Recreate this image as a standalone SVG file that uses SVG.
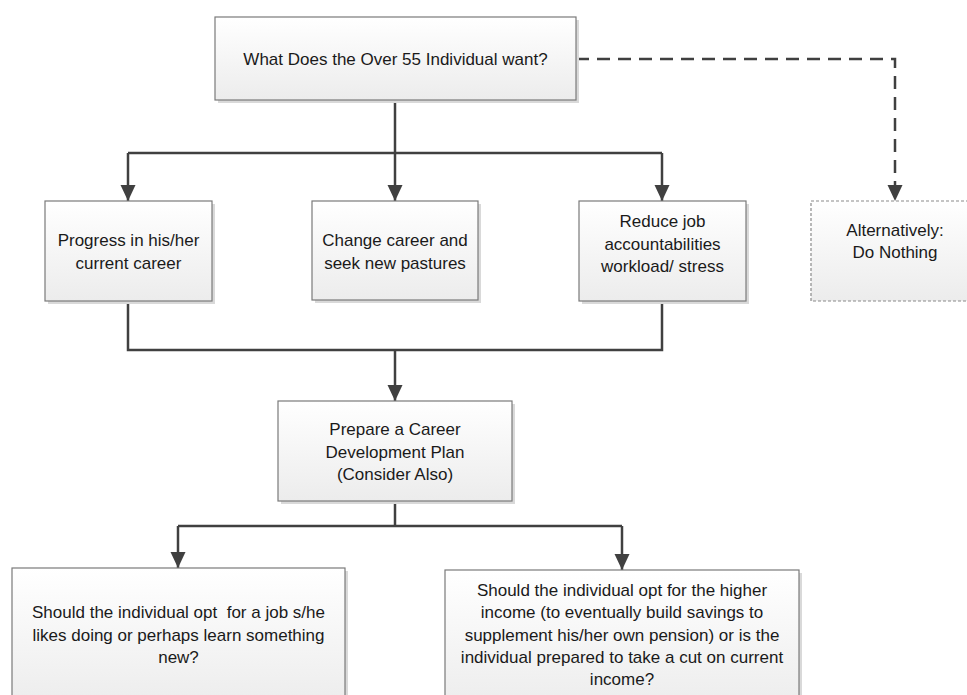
<svg xmlns="http://www.w3.org/2000/svg" width="967" height="695" viewBox="0 0 967 695">
<defs>
<linearGradient id="g" x1="0" y1="0" x2="0" y2="1">
<stop offset="0" stop-color="#ffffff"/>
<stop offset="1" stop-color="#ececec"/>
</linearGradient>
<marker id="ah" viewBox="0 0 16 16" refX="16" refY="8" markerWidth="16" markerHeight="16" markerUnits="userSpaceOnUse" orient="auto">
<path d="M0,0.5 L16,8 L0,15.5 Z" fill="#404040"/>
</marker>
<style>
.box{fill:url(#g);stroke:#7a7a7a;stroke-width:1.2}
.dbox{fill:url(#g);stroke:#8a8a8a;stroke-width:1.2;stroke-dasharray:3 2}
.sh{fill:#d9d9d9}
.t{font-family:"Liberation Sans",Arial,sans-serif;font-size:17px;fill:#1a1a1a;text-anchor:middle}
.c{fill:none;stroke:#404040;stroke-width:2.5}
.cd{fill:none;stroke:#404040;stroke-width:2.5;stroke-dasharray:13 8}
</style>
</defs>
<g id="connectors">
<path class="c" d="M395,100 V153"/>
<path class="c" d="M128,153 H662" />
<path class="c" d="M128,153 V201" marker-end="url(#ah)"/>
<path class="c" d="M395,153 V201" marker-end="url(#ah)"/>
<path class="c" d="M662,153 V201" marker-end="url(#ah)"/>
<path class="cd" d="M576,59 H895 V201" marker-end="url(#ah)"/>
<path class="c" d="M128,301 V350 H662 V301"/>
<path class="c" d="M395,350 V401" marker-end="url(#ah)"/>
<path class="c" d="M395,501 V526"/>
<path class="c" d="M178,526 H622"/>
<path class="c" d="M178,526 V568" marker-end="url(#ah)"/>
<path class="c" d="M622,526 V570" marker-end="url(#ah)"/>
</g>
<g id="n-top">
<rect class="sh" x="218" y="20" width="361" height="83"/>
<rect class="box" x="215" y="17" width="361" height="83"/>
<text class="t" x="395.5" y="65">What Does the Over 55 Individual want?</text>
</g>
<g id="n-progress">
<rect class="sh" x="48" y="204" width="167" height="100"/>
<rect class="box" x="45" y="201" width="167" height="100"/>
<text class="t" x="128.5" y="246">Progress in his/her</text>
<text class="t" x="128.5" y="269">current career</text>
</g>
<g id="n-change">
<rect class="sh" x="315" y="204" width="166" height="99"/>
<rect class="box" x="312" y="201" width="166" height="99"/>
<text class="t" x="395" y="246">Change career and</text>
<text class="t" x="395" y="269">seek new pastures</text>
</g>
<g id="n-reduce">
<rect class="sh" x="582" y="204" width="167" height="100"/>
<rect class="box" x="579" y="201" width="167" height="100"/>
<text class="t" x="662.5" y="227">Reduce job</text>
<text class="t" x="662.5" y="250">accountabilities</text>
<text class="t" x="662.5" y="272">workload/ stress</text>
</g>
<g id="n-nothing">
<rect class="dbox" x="811" y="201" width="170" height="100"/>
<text class="t" x="895" y="236">Alternatively:</text>
<text class="t" x="895" y="258">Do Nothing</text>
</g>
<g id="n-plan">
<rect class="sh" x="281" y="404" width="234" height="100"/>
<rect class="box" x="278" y="401" width="234" height="100"/>
<text class="t" x="395" y="435">Prepare a Career</text>
<text class="t" x="395" y="458">Development Plan</text>
<text class="t" x="395" y="480">(Consider Also)</text>
</g>
<g id="n-job">
<rect class="sh" x="15" y="571" width="333" height="140"/>
<rect class="box" x="12" y="568" width="333" height="140"/>
<text class="t" x="178.5" y="618" xml:space="preserve">Should the individual opt  for a job s/he</text>
<text class="t" x="178.5" y="641">likes doing or perhaps learn something</text>
<text class="t" x="178.5" y="663">new?</text>
</g>
<g id="n-income">
<rect class="sh" x="448" y="573" width="354" height="140"/>
<rect class="box" x="445" y="570" width="354" height="140"/>
<text class="t" x="622" y="596">Should the individual opt for the higher</text>
<text class="t" x="622" y="618">income (to eventually build savings to</text>
<text class="t" x="622" y="641">supplement his/her own pension) or is the</text>
<text class="t" x="622" y="663">individual prepared to take a cut on current</text>
<text class="t" x="622" y="685">income?</text>
</g>
</svg>
